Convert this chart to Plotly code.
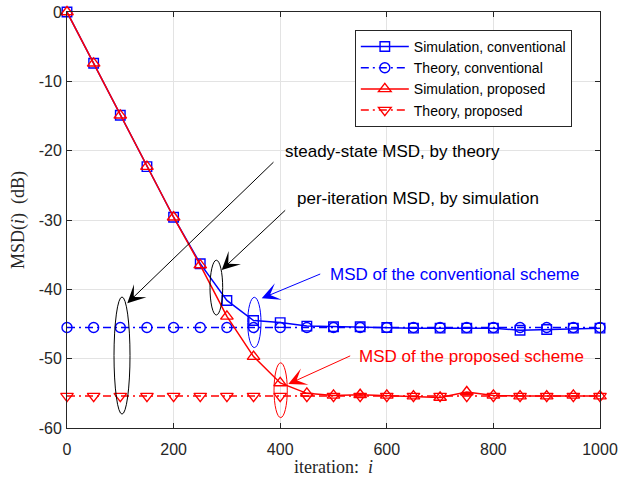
import plotly.graph_objects as go

# ---- data ----
iterations = [0, 50, 100, 150, 200, 250, 300, 350, 400, 450, 500,
              550, 600, 650, 700, 750, 800, 850, 900, 950, 1000]
sim_conventional = [0, -7.4, -14.9, -22.3, -29.6, -36.3, -41.6, -44.5, -44.8, -45.3, -45.4,
                    -45.4, -45.5, -45.6, -45.6, -45.6, -45.6, -45.9, -45.8, -45.6, -45.6]
theory_conventional = [-45.5, -45.5, -45.5, -45.5, -45.5, -45.5, -45.5, -45.5, -45.5, -45.5, -45.5,
                       -45.5, -45.5, -45.5, -45.5, -45.5, -45.5, -45.5, -45.5, -45.5, -45.5]
sim_proposed = [0, -7.4, -14.9, -22.3, -29.6, -36.5, -43.9, -49.7, -53.5, -55.0, -55.3,
                -55.2, -55.3, -55.4, -55.6, -54.8, -55.3, -55.4, -55.4, -55.3, -55.4]
theory_proposed = [-55.4, -55.4, -55.4, -55.4, -55.4, -55.4, -55.4, -55.4, -55.4, -55.4, -55.4,
                   -55.4, -55.4, -55.4, -55.4, -55.4, -55.4, -55.4, -55.4, -55.4, -55.4]

series_names = ["Simulation, conventional", "Theory, conventional",
                "Simulation, proposed", "Theory, proposed"]
x_ticks = [0, 200, 400, 600, 800, 1000]
y_ticks = [0, -10, -20, -30, -40, -50, -60]
x_ticklabels = ["0", "200", "400", "600", "800", "1000"]
y_ticklabels = ["0", "-10", "-20", "-30", "-40", "-50", "-60"]

BLUE = "#0000FF"
RED = "#FF0000"
AX = "#262626"
DASHDOT = "8px,4px,2px,4px"

fig = go.Figure()
fig.add_trace(go.Scatter(x=iterations, y=sim_conventional, name=series_names[0], mode="lines+markers",
                         line=dict(color=BLUE, width=1.5),
                         marker=dict(symbol="square-open", size=9.5, color=BLUE, line=dict(width=1.4, color=BLUE)),
                         cliponaxis=False))
fig.add_trace(go.Scatter(x=iterations, y=theory_conventional, name=series_names[1], mode="lines+markers",
                         line=dict(color=BLUE, width=1.5, dash=DASHDOT),
                         marker=dict(symbol="circle-open", size=10, color=BLUE, line=dict(width=1.4, color=BLUE)),
                         cliponaxis=False))
fig.add_trace(go.Scatter(x=iterations, y=sim_proposed, name=series_names[2], mode="lines+markers",
                         line=dict(color=RED, width=1.5),
                         marker=dict(symbol="triangle-up-open", size=11, color=RED, line=dict(width=1.4, color=RED)),
                         cliponaxis=False))
fig.add_trace(go.Scatter(x=iterations, y=theory_proposed, name=series_names[3], mode="lines+markers",
                         line=dict(color=RED, width=1.5, dash=DASHDOT),
                         marker=dict(symbol="triangle-down-open", size=11, color=RED, line=dict(width=1.4, color=RED)),
                         cliponaxis=False))

axis_common = dict(showgrid=True, gridcolor="#e3e3e3", gridwidth=1, showline=True, linecolor=AX, linewidth=1,
                   mirror="allticks", ticks="inside", ticklen=5, tickcolor=AX, zeroline=False,
                   tickfont=dict(family="Liberation Sans", size=16, color=AX), automargin=False)
fig.update_xaxes(range=[0, 1000], tickvals=x_ticks, ticktext=x_ticklabels, ticklabelstandoff=7, **axis_common)
fig.update_yaxes(range=[-60, 0], tickvals=y_ticks, ticktext=y_ticklabels, ticklabelstandoff=1, **axis_common)

# ellipses
ellipses = [
    (88.2, 118.2, -41.1, -58.0, "black"),
    (268.3, 292.1, -35.8, -43.7, "black"),
    (339.0, 364.0, -41.15, -48.4, BLUE),
    (388.4, 413.3, -50.6, -58.5, RED),
]
for x0, x1, y0, y1, c in ellipses:
    fig.add_shape(type="circle", xref="x", yref="y", x0=x0, x1=x1, y0=y0, y1=y1,
                  line=dict(color=c, width=1))

# arrows (tip, tail)
arrows = [
    (113.1, -42.0, 390.2, -21.45, "black"),
    (290.2, -37.2, 412.2, -28.4, "black"),
    (365.3, -41.3, 477.9, -37.7, BLUE),
    (415.2, -53.66, 534.1, -49.5, RED),
]
for x, y, ax, ay, c in arrows:
    fig.add_annotation(x=x, y=y, ax=ax, ay=ay, xref="x", yref="y", axref="x", ayref="y",
                       text="", showarrow=True, arrowhead=3, arrowsize=3, arrowwidth=1,
                       arrowcolor=c, standoff=0, startstandoff=0)

texts = [
    (405.3, -20.15, "steady-state MSD, by theory", "black"),
    (427.8, -26.9, "per-iteration MSD, by simulation", "black"),
    (489.7, -37.8, "MSD of the conventional scheme", BLUE),
    (544.7, -49.7, "MSD of the proposed scheme", RED),
]
for x, y, t, c in texts:
    fig.add_annotation(x=x, y=y, xref="x", yref="y", text=t, showarrow=False,
                       xanchor="left", yanchor="middle",
                       font=dict(family="Liberation Sans", size=17, color=c))

# axis titles
fig.add_annotation(x=0.5, y=-0.094, xref="paper", yref="paper", text="iteration:  <i>i</i>",
                   showarrow=False, xanchor="center", yanchor="middle",
                   font=dict(family="Liberation Serif", size=18, color=AX))
fig.add_annotation(x=-0.092, y=0.5, xref="paper", yref="paper", text="MSD(<i>i</i>)  (dB)",
                   showarrow=False, xanchor="center", yanchor="middle", textangle=-90,
                   font=dict(family="Liberation Serif", size=18, color=AX))

fig.update_layout(
    width=619, height=477,
    margin=dict(l=67, r=19, t=12, b=49, autoexpand=False),
    paper_bgcolor="white", plot_bgcolor="white",
    font=dict(family="Liberation Sans", color=AX),
    showlegend=True,
    legend=dict(x=0.54, y=0.957, xanchor="left", yanchor="top",
                bordercolor=AX, borderwidth=1, bgcolor="white",
                font=dict(family="Liberation Sans", size=14, color="black"),
                tracegroupgap=0, itemwidth=48),
)

fig.write_html("out.html", config={"displayModeBar": False},
               post_script="document.body.style.margin='0px';document.body.style.overflow='hidden';")
